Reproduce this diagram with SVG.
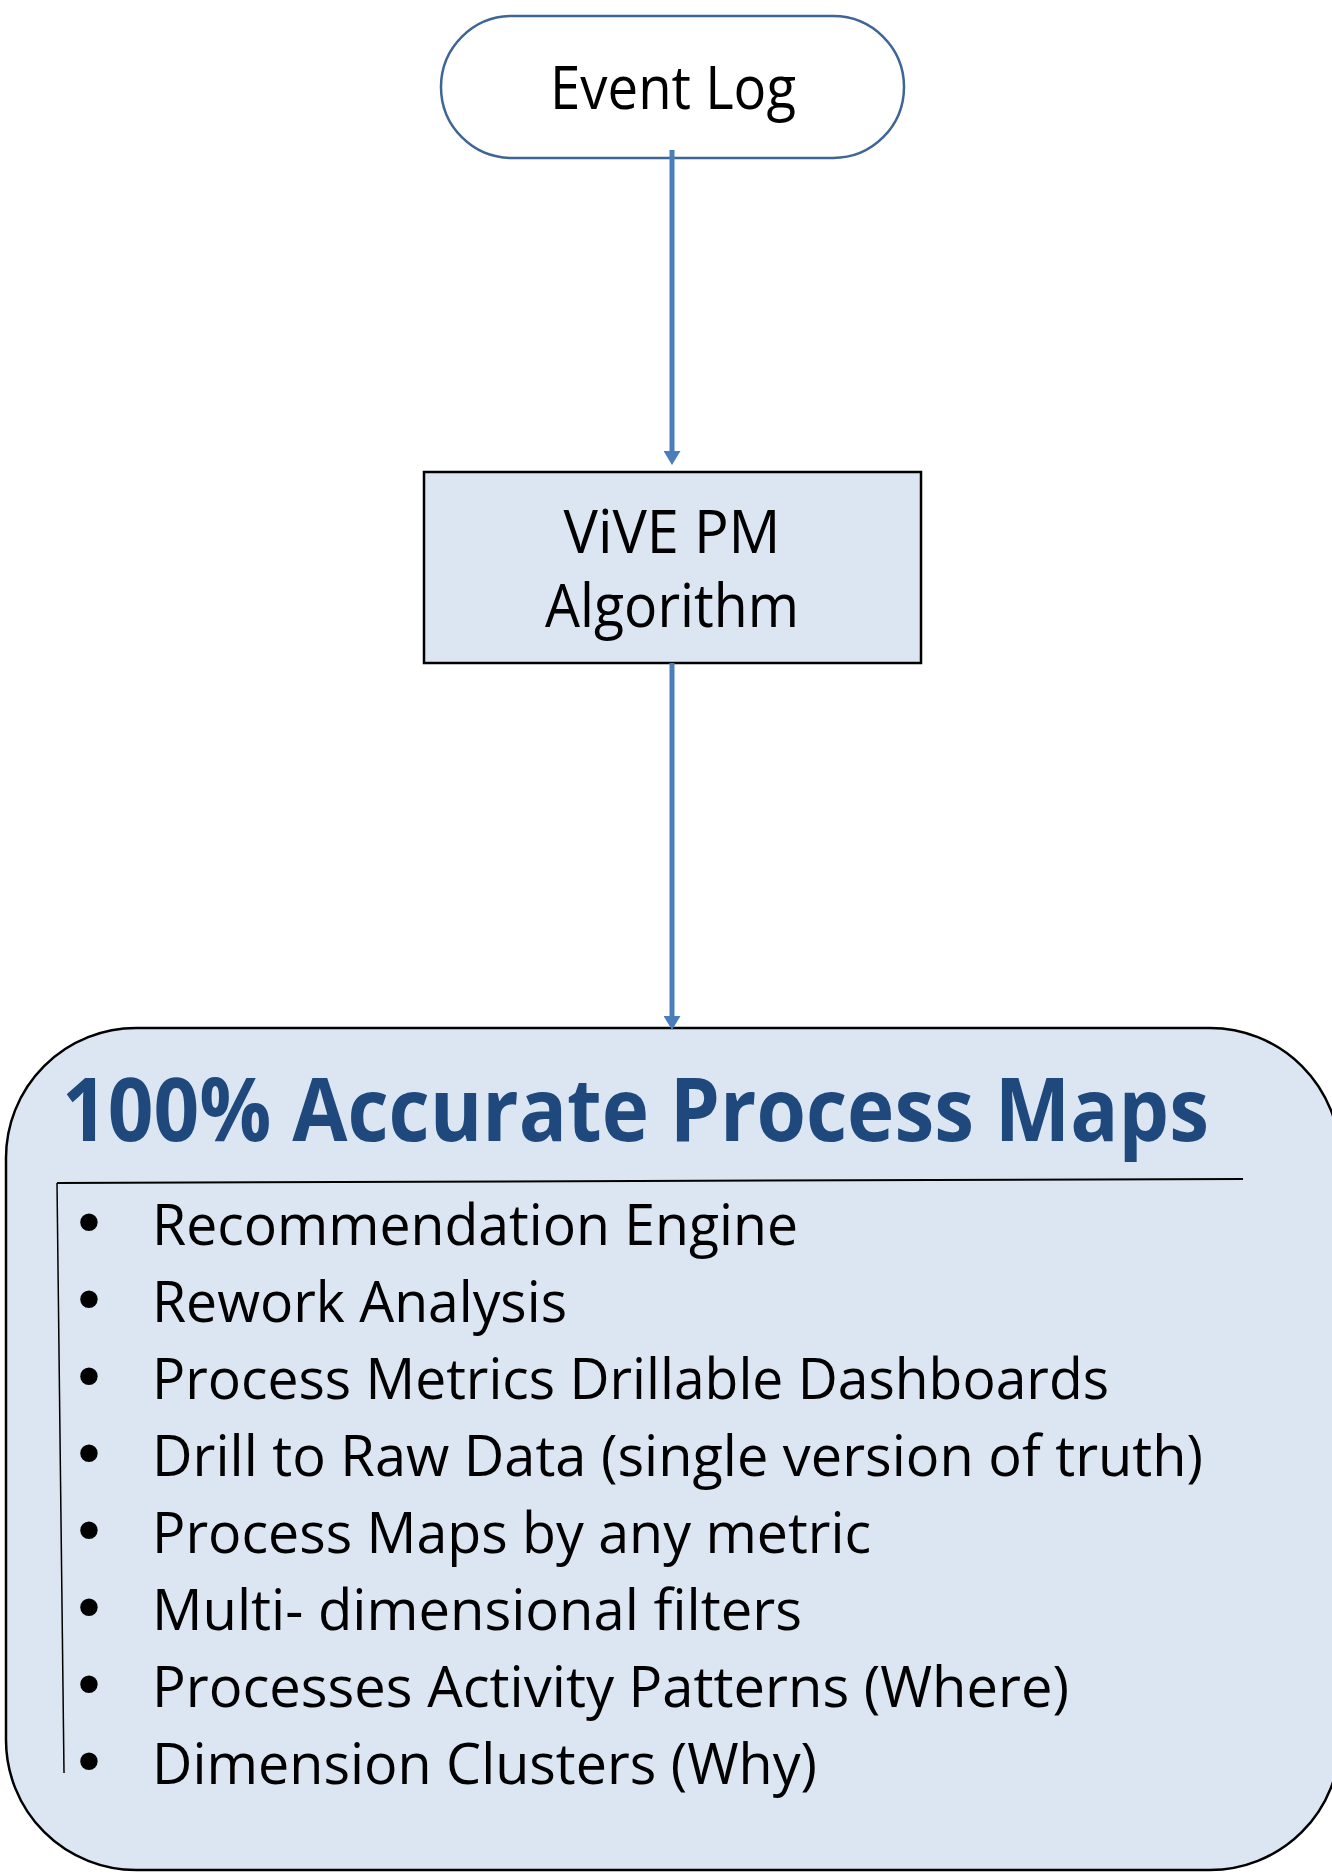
<svg xmlns="http://www.w3.org/2000/svg" width="1332" height="1874" viewBox="0 0 1332 1874">
<defs>
<style>
.t{font-family:"Open Sans","Liberation Sans",sans-serif;fill:#000}
.big{font-size:60px}
.li{font-size:57px}
.bul{font-family:"DejaVu Sans",sans-serif;font-size:60px;fill:#000}
.title{font-family:"Open Sans","Liberation Sans",sans-serif;font-weight:bold;font-size:88px;fill:#1F497D}
.conn{stroke:#4A7EBB;stroke-width:5;fill:none}
</style>
<marker id="ah" viewBox="0 0 14 17" refX="1" refY="8.5" markerWidth="14" markerHeight="17" orient="auto" markerUnits="userSpaceOnUse">
<path d="M0,0 L14,8.5 L0,17 z" fill="#4A7EBB"/>
</marker>
</defs>
<rect width="1332" height="1874" fill="#fff"/>
<g id="event-log">
<rect x="441" y="16" width="463" height="142" rx="71" ry="71" fill="#fff" stroke="#3E6596" stroke-width="2.5"/>
<text class="t big" x="673" y="109" text-anchor="middle" textLength="246" lengthAdjust="spacingAndGlyphs">Event Log</text>
</g>
<g id="vive-pm">
<rect x="424" y="472" width="497" height="191" fill="#DCE6F2" stroke="#000" stroke-width="2.5"/>
<text class="t big" x="672" y="553" text-anchor="middle" textLength="217" lengthAdjust="spacingAndGlyphs">ViVE PM</text>
<text class="t big" x="672" y="627" text-anchor="middle" textLength="254" lengthAdjust="spacingAndGlyphs">Algorithm</text>
</g>
<g id="process-maps">
<rect x="6" y="1028" width="1334" height="842" rx="130" ry="130" fill="#DCE6F2" stroke="#000" stroke-width="2.5"/>
<text class="title" x="62" y="1141" textLength="1147" lengthAdjust="spacingAndGlyphs">100% Accurate Process Maps</text>
<line x1="57" y1="1183" x2="1243" y2="1179" stroke="#000" stroke-width="2"/>
<line x1="57" y1="1183" x2="64" y2="1773" stroke="#000" stroke-width="1.5"/>
<g class="bul" text-anchor="middle">
<text x="89" y="1245">•</text>
<text x="89" y="1322">•</text>
<text x="89" y="1399">•</text>
<text x="89" y="1476">•</text>
<text x="89" y="1553">•</text>
<text x="89" y="1630">•</text>
<text x="89" y="1707">•</text>
<text x="89" y="1784">•</text>
</g>
<g class="t li">
<text x="152" y="1245" textLength="646" lengthAdjust="spacingAndGlyphs">Recommendation Engine</text>
<text x="152" y="1322" textLength="415" lengthAdjust="spacingAndGlyphs">Rework Analysis</text>
<text x="152" y="1399" textLength="957" lengthAdjust="spacingAndGlyphs">Process Metrics Drillable Dashboards</text>
<text x="152" y="1476" textLength="1051" lengthAdjust="spacingAndGlyphs">Drill to Raw Data (single version of truth)</text>
<text x="152" y="1553" textLength="719" lengthAdjust="spacingAndGlyphs">Process Maps by any metric</text>
<text x="152" y="1630" textLength="650" lengthAdjust="spacingAndGlyphs">Multi- dimensional filters</text>
<text x="152" y="1707" textLength="917" lengthAdjust="spacingAndGlyphs">Processes Activity Patterns (Where)</text>
<text x="152" y="1784" textLength="665" lengthAdjust="spacingAndGlyphs">Dimension Clusters (Why)</text>
</g>
</g>
<g id="connectors">
<line class="conn" x1="672" y1="150" x2="672" y2="452" marker-end="url(#ah)"/>
<line class="conn" x1="672" y1="663" x2="672" y2="1017" marker-end="url(#ah)"/>
</g>
</svg>
